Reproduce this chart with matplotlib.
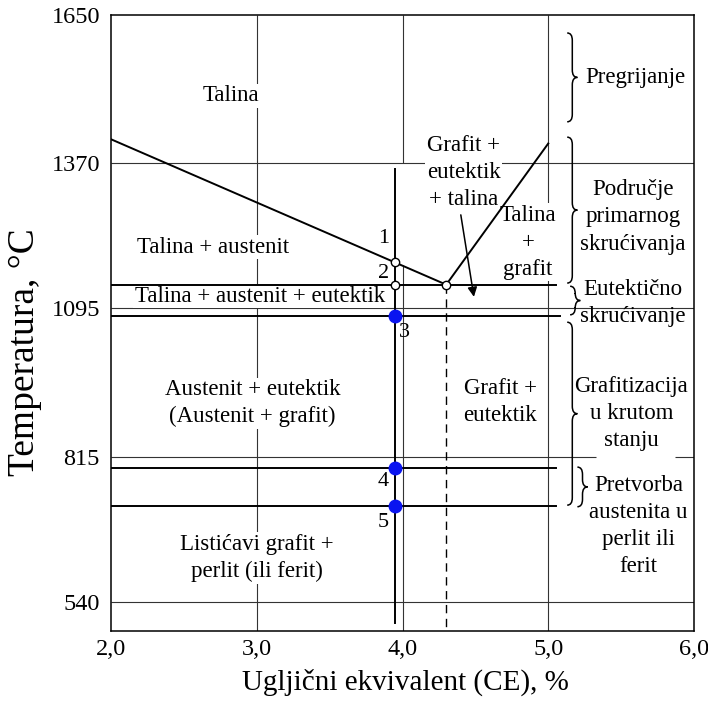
import matplotlib
matplotlib.use("Agg")
import matplotlib.pyplot as plt
from matplotlib.path import Path
from matplotlib.patches import PathPatch

plt.rcParams['font.family'] = ['Liberation Serif', 'DejaVu Serif']

# ---------------- data ----------------
x_ticks = [2.0, 3.0, 4.0, 5.0, 6.0]
x_tick_labels = ["2,0", "3,0", "4,0", "5,0", "6,0"]
y_ticks = [540, 815, 1095, 1370, 1650]
y_tick_labels = ["540", "815", "1095", "1370", "1650"]

liq_aust_ce = [2.0, 4.3]
liq_aust_t = [1415, 1140]
liq_graf_ce = [4.3, 5.0]
liq_graf_t = [1140, 1407]

eut_ce = 4.3
eut_t = 1140
sample_ce = 3.95

# horizontal process lines: (T, x_end)
h_lines_t = [1140, 1081, 793, 721]
h_lines_end = [5.05, 5.08, 5.05, 5.05]

open_pts_ce = [3.95, 3.95, 4.3]
open_pts_t = [1182, 1140, 1140]
blue_pts_ce = [3.95, 3.95, 3.95]
blue_pts_t = [1081, 793, 721]
pt_labels = ["1", "2", "3", "4", "5"]
pt_label_ce = [3.87, 3.87, 4.01, 3.87, 3.87]
pt_label_t = [1228, 1161, 1049, 767, 690]

region_texts = ["Talina", "Talina + austenit", "Talina + austenit + eutektik",
                "Grafit +\neutektik\n+ talina", "Talina\n+\ngrafit",
                "Austenit + eutektik\n(Austenit + grafit)", "Grafit +\neutektik",
                "Listićavi grafit +\nperlit (ili ferit)"]
region_ce = [2.82, 2.70, 3.02, 4.42, 4.86, 2.97, 4.67, 3.00]
region_t = [1497, 1211, 1118, 1352, 1220, 916, 918, 623]

stage_texts = ["Pregrijanje", "Područje\nprimarnog\nskrućivanja",
               "Eutektično\nskrućivanje", "Grafitizacija\nu krutom\nstanju",
               "Pretvorba\naustenita u\nperlit ili\nferit"]
stage_ce = [5.60, 5.58, 5.58, 5.57, 5.62]
stage_t = [1532, 1268, 1106, 896, 683]

# braces: (x_left, T_top, T_bottom)
brace_x = [5.13, 5.13, 5.15, 5.13, 5.20]
brace_top = [1616, 1419, 1137, 1069, 795]
brace_bot = [1448, 1143, 1083, 723, 720]

# ---------------- figure ----------------
W, H = 708, 705
fig = plt.figure(figsize=(W / 100, H / 100), dpi=100)
ax = fig.add_axes([111 / W, 1 - 631 / H, (694 - 111) / W, (631 - 15) / H])
ax.set_xlim(2.0, 6.0)
ax.set_ylim(485, 1650)

grid_kw = dict(color='#333333', lw=0.8, zorder=1)
# vertical grid
ax.vlines(3.0, 485, 1650, **grid_kw)
ax.vlines(4.0, 1370, 1650, **grid_kw)
ax.vlines(4.0, 485, 1178, **grid_kw)
ax.vlines(5.0, 485, 1650, **grid_kw)
# horizontal grid
ax.hlines(1370, 2.0, 6.0, **grid_kw)
ax.hlines(1095, 2.0, 6.0, **grid_kw)
ax.hlines(815, 2.0, 5.33, **grid_kw)
ax.hlines(815, 5.87, 6.0, **grid_kw)
ax.hlines(540, 2.0, 6.0, **grid_kw)

main_kw = dict(color='black', lw=1.4, zorder=3)
ax.plot(liq_aust_ce, liq_aust_t, **main_kw)
ax.plot(liq_graf_ce, liq_graf_t, **main_kw)
for t, xe in zip(h_lines_t, h_lines_end):
    ax.plot([2.0, xe], [t, t], **main_kw)
ax.plot([sample_ce, sample_ce], [1358, 500], **main_kw)
ax.plot([eut_ce, eut_ce], [eut_t, 485], color='black', lw=1.0,
        ls=(0, (6, 4)), zorder=3)

ax.plot(open_pts_ce, open_pts_t, 'o', ms=6, mfc='white', mec='black',
        mew=1.0, zorder=5, ls='none')
ax.plot(blue_pts_ce, blue_pts_t, 'o', ms=9, mfc='#0a14f0', mec='#0a14f0',
        zorder=5, ls='none')

for lab, x, y in zip(pt_labels, pt_label_ce, pt_label_t):
    ax.text(x, y, lab, fontsize=16, ha='center', va='center', zorder=4)

for txt, x, y in zip(region_texts, region_ce, region_t):
    ax.text(x, y, txt, fontsize=16.5, ha='center', va='center', zorder=2,
            linespacing=1.38,
            bbox=dict(facecolor='white', edgecolor='none', pad=1.0))

for txt, x, y in zip(stage_texts, stage_ce, stage_t):
    ax.text(x, y, txt, fontsize=16.5, ha='center', va='center', zorder=2,
            linespacing=1.38)

ax.annotate("", xy=(4.49, 1117), xytext=(4.40, 1272),
            arrowprops=dict(arrowstyle='-|>', color='black', lw=1.1,
                            mutation_scale=14, shrinkA=0, shrinkB=0),
            zorder=4)


def brace(x0, yt, yb, w=0.07, d=14):
    hw = w / 2
    ym = (yt + yb) / 2
    verts = [(x0, yt), (x0 + hw, yt), (x0 + hw, yt - d),
             (x0 + hw, ym + d),
             (x0 + hw, ym), (x0 + w, ym),
             (x0 + hw, ym), (x0 + hw, ym - d),
             (x0 + hw, yb + d),
             (x0 + hw, yb), (x0, yb)]
    codes = [Path.MOVETO, Path.CURVE3, Path.CURVE3,
             Path.LINETO,
             Path.CURVE3, Path.CURVE3,
             Path.CURVE3, Path.CURVE3,
             Path.LINETO,
             Path.CURVE3, Path.CURVE3]
    ax.add_patch(PathPatch(Path(verts, codes), fill=False, lw=1.1,
                           edgecolor='black', zorder=4))


for x0, yt, yb in zip(brace_x, brace_top, brace_bot):
    brace(x0, yt, yb)

ax.set_xticks(x_ticks)
ax.set_xticklabels(x_tick_labels)
ax.set_yticks(y_ticks)
ax.set_yticklabels(y_tick_labels)
ax.tick_params(length=0, labelsize=17.5)
ax.tick_params(axis='x', pad=6)
ax.tick_params(axis='y', pad=8)
for s in ax.spines.values():
    s.set_linewidth(1.1)

fig.text(405 / W, 1 - 682 / H, "Ugljični ekvivalent (CE), %", fontsize=21,
         ha='center', va='center')
fig.text(25 / W, 1 - 352 / H, "Temperatura, °C", fontsize=27, rotation=90,
         ha='center', va='center')

fig.savefig("out.png", dpi=100)
